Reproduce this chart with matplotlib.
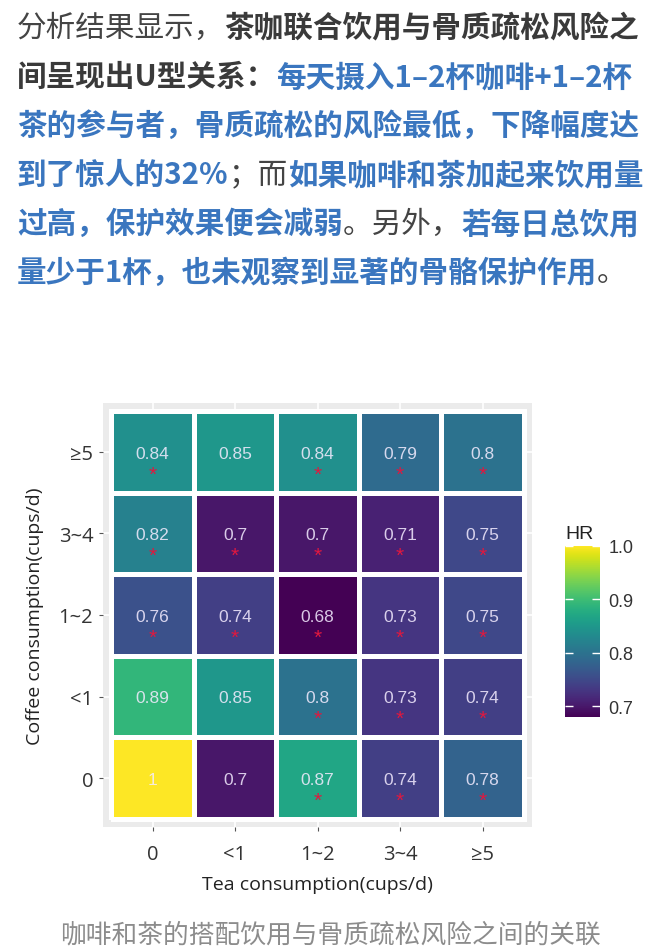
import matplotlib
matplotlib.use("Agg")
import matplotlib.pyplot as plt
from matplotlib.ticker import FormatStrFormatter
import numpy as np

plt.rcParams["font.family"] = ["Noto Sans CJK SC", "DejaVu Sans"]

# --- data -------------------------------------------------------------
tea_labels = ["0", "<1", "1~2", "3~4", "≥5"]
coffee_labels = ["0", "<1", "1~2", "3~4", "≥5"]

# rows = coffee (0 -> >=5), columns = tea (0 -> >=5)
hr = np.array([
    [1.00, 0.70, 0.87, 0.74, 0.78],
    [0.89, 0.85, 0.80, 0.73, 0.74],
    [0.76, 0.74, 0.68, 0.73, 0.75],
    [0.82, 0.70, 0.70, 0.71, 0.75],
    [0.84, 0.85, 0.84, 0.79, 0.80],
])
signif = np.array([
    [0, 0, 1, 1, 1],
    [0, 0, 1, 1, 1],
    [1, 1, 1, 1, 1],
    [1, 1, 1, 1, 1],
    [1, 0, 1, 1, 1],
])
cbar_ticks = [0.7, 0.8, 0.9, 1.0]

# paragraph above the chart: (text, style) per line
para = [
    [("分析结果显示，", "n"), ("茶咖联合饮用与骨质疏松风险之", "b")],
    [("间呈现出U型关系：", "b"), ("每天摄入1–2杯咖啡+1–2杯", "blue")],
    [("茶的参与者，骨质疏松的风险最低，下降幅度达", "blue")],
    [("到了惊人的32%", "blue"), ("；而", "n"), ("如果咖啡和茶加起来饮用量", "blue")],
    [("过高，保护效果便会减弱", "blue"), ("。另外，", "n"), ("若每日总饮用", "blue")],
    [("量少于1杯，也未观察到显著的骨骼保护作用", "blue"), ("。", "n")],
]
caption = "咖啡和茶的搭配饮用与骨质疏松风险之间的关联"

styles = {
    "n": dict(color="#444444", fontweight="normal"),
    "b": dict(color="#3a3a3a", fontweight="bold"),
    "blue": dict(color="#3a76bf", fontweight="bold"),
}

W, H = 660, 953
fig = plt.figure(figsize=(W / 100, H / 100), dpi=100)
renderer = fig.canvas.get_renderer()

# paragraph, segment by segment
for k, line in enumerate(para):
    x = 17
    y = 28 + k * 49
    for txt, st in line:
        t = fig.text(x / W, 1 - y / H, txt, fontsize=21.3, ha="left", va="center", **styles[st])
        x += t.get_window_extent(renderer).width

# --- heatmap ------------------------------------------------------------
ax = fig.add_axes([103 / W, 1 - 828 / H, 429 / W, 424 / H])
ax.set_facecolor("#ebebeb")
ax.set_axisbelow(True)
ax.grid(color="white", linewidth=1.2)

edges = np.arange(len(tea_labels) + 1) - 0.5
mesh = ax.pcolormesh(edges, edges, hr, cmap="viridis", vmin=0.68, vmax=1.0,
                     edgecolors="white", linewidth=3.6)
ax.set_xlim(-0.6, 4.6)
ax.set_ylim(-0.6, 4.6)

for i in range(len(coffee_labels)):
    for j in range(len(tea_labels)):
        ax.annotate(f"{hr[i, j]:g}", (j, i), xytext=(0, -1), textcoords="offset points",
                    ha="center", va="center", color="#f4ecff", alpha=0.85, fontsize=12.5,
                    family="Liberation Sans")
        if signif[i, j]:
            ax.annotate("*", (j, i), xytext=(0, -16), textcoords="offset points",
                        ha="center", va="center", color="#e0183f", fontsize=15,
                        family="Liberation Sans")

for s in ax.spines.values():
    s.set_visible(False)
ax.set_xticks(range(len(tea_labels)))
ax.set_xticklabels(tea_labels)
ax.set_yticks(range(len(coffee_labels)))
ax.set_yticklabels(coffee_labels)
ax.tick_params(length=3, color="#555555", labelsize=14.5, labelcolor="#333333")
ax.tick_params(axis="x", pad=9)
ax.tick_params(axis="y", pad=4)
for lab in ax.get_xticklabels() + ax.get_yticklabels():
    lab.set_family(["Open Sans", "DejaVu Sans"])

ax.set_xlabel("Tea consumption(cups/d)", fontsize=14, family="Open Sans", color="#222222")
ax.set_ylabel("Coffee consumption(cups/d)", fontsize=14, family="Open Sans", color="#222222")
ax.xaxis.label.set_va("center")
ax.yaxis.label.set_va("center")
ax.xaxis.set_label_coords(0.5, (828 - 885) / 424)
ax.yaxis.set_label_coords((35 - 103) / 429, 0.5)

# --- colour bar ---------------------------------------------------------
cax = fig.add_axes([565 / W, 1 - 718 / H, 35 / W, 171 / H])
cb = fig.colorbar(mesh, cax=cax, ticks=cbar_ticks)
cb.outline.set_visible(False)
cb.ax.yaxis.set_major_formatter(FormatStrFormatter("%.1f"))
cb.ax.tick_params(direction="in", length=6, width=1, color="white", left=True, right=True,
                  labelcolor="#333333", labelsize=13, pad=6)
for lab in cb.ax.get_yticklabels():
    lab.set_family("Liberation Sans")
cb.ax.set_title("HR", loc="left", fontsize=14, pad=6, family="Liberation Sans", color="#222222")

fig.text(0.5, 1 - 935 / H, caption, ha="center", va="center", fontsize=18.5, color="#8c8c8c")

fig.savefig("out.png", dpi=100)
